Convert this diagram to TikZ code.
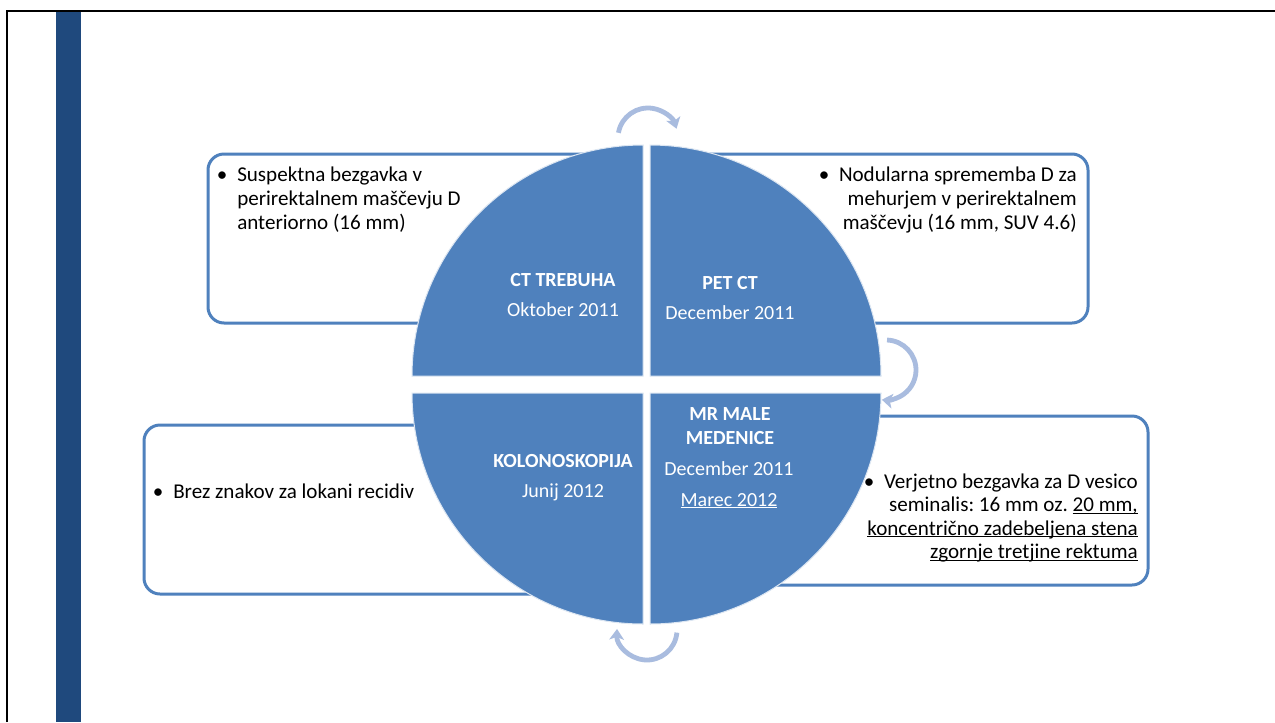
\documentclass[tikz,border=0pt]{standalone}
\usepackage{fontspec}
\setmainfont{Carlito}
\usetikzlibrary{arrows.meta}
\definecolor{accent}{HTML}{4F81BD}
\definecolor{darkbar}{HTML}{1F497D}
\definecolor{arcblue}{HTML}{A9BCDF}
\definecolor{edgec}{HTML}{DCE6F2}
\newcommand{\myul}[1]{\setbox0\hbox{#1}\rlap{\rule[-1.8pt]{\wd0}{0.8pt}}\box0}
\frenchspacing
\begin{document}
\begin{tikzpicture}[x=0.75pt,y=-0.75pt,
  infobox/.style={draw=accent, line width=2.25pt, fill=white, rounded corners=12pt},
  quad/.style={fill=accent, draw=edgec, line width=0.75pt},
  cyc/.style={arcblue, line width=3.6pt, -{Stealth[length=8pt,width=11pt,inset=2pt]}},
  ttl/.style={font=\fontsize{15}{18}\selectfont\bfseries, text=white, inner sep=0pt},
  sub/.style={font=\fontsize{15}{18}\selectfont, text=white, inner sep=0pt},
  txt/.style={font=\fontsize{15.8}{18}\selectfont, text=black, inner sep=0pt}]
\useasboundingbox (0,0) rectangle (1275,722);
\fill[white] (0,0) rectangle (1275,722);
% frame and bar
\fill[darkbar] (56,12) rectangle (81,722);
\draw[black, line width=2pt] (7,722) -- (7,11) -- (1275,11);
% boxes
\draw[infobox] (208,154) rectangle (605,323);
\draw[infobox] (690,154) rectangle (1088,323);
\draw[infobox] (144,425) rectangle (600,594);
\draw[infobox] (700,416) rectangle (1148,585);
% quadrants
\path[quad] (643,376) -- (412,376) arc[start angle=180, end angle=270, radius=231] -- cycle;
\path[quad] (650,376) -- (650,145) arc[start angle=270, end angle=360, radius=231] -- cycle;
\path[quad] (643,393) -- (643,624) arc[start angle=90, end angle=180, radius=231] -- cycle;
\path[quad] (650,393) -- (881,393) arc[start angle=0, end angle=90, radius=231] -- cycle;
% circular arrows
\draw[cyc] (648,138) ++(190:30) arc[start angle=190, end angle=342, radius=30];
\draw[cyc] (886,370) ++(-88:30) arc[start angle=-88, end angle=98, radius=30];
\draw[cyc] (647,630) ++(5:30) arc[start angle=5, end angle=182, radius=30];
% circle texts
\node[ttl, anchor=base] (t1) at (563,286) {CT TREBUHA};
\node[sub, anchor=base] (d1) at (563,316) {Oktober 2011};
\node[ttl, anchor=base] (t2) at (730,289) {PET CT};
\node[sub, anchor=base] (d2) at (730,319) {December 2011};
\node[ttl, anchor=base] (t3a) at (730,420) {MR MALE};
\node[ttl, anchor=base] (t3b) at (730,444) {MEDENICE};
\node[sub, anchor=base] (d3a) at (729,475) {December 2011};
\node[sub, anchor=base] (d3b) at (729,506) {\myul{Marec 2012}};
\node[ttl, anchor=base] (t4) at (563,467) {KOLONOSKOPIJA};
\node[sub, anchor=base] (d4) at (563,497) {Junij 2012};
% box texts
\node[txt, anchor=base] (b1) at (222,181) {•};
\node[txt, anchor=base west] (l1a) at (237,181) {Suspektna bezgavka v};
\node[txt, anchor=base west] (l1b) at (237,205) {perirektalnem maščevju D};
\node[txt, anchor=base west] (l1c) at (237,229) {anteriorno (16 mm)};
\node[txt, anchor=base] (b2) at (824,181) {•};
\node[txt, anchor=base east] (l2a) at (1077,181) {Nodularna sprememba D za};
\node[txt, anchor=base east] (l2b) at (1077,205) {mehurjem v perirektalnem};
\node[txt, anchor=base east] (l2c) at (1077,229) {maščevju (16 mm, SUV 4.6)};
\node[txt, anchor=base] (b3) at (158,498) {•};
\node[txt, anchor=base west] (l3a) at (173,498) {Brez znakov za lokani recidiv};
\node[txt, anchor=base] (b4) at (869,488) {•};
\node[txt, anchor=base east] (l4a) at (1138,488) {Verjetno bezgavka za D vesico};
\node[txt, anchor=base east] (l4b) at (1138,511.5) {seminalis: 16 mm oz. \myul{20 mm,}};
\node[txt, anchor=base east] (l4c) at (1138,535) {\myul{koncentrično zadebeljena stena}};
\node[txt, anchor=base east] (l4d) at (1138,558.5) {\myul{zgornje tretjine rektuma}};
\end{tikzpicture}
\end{document}
